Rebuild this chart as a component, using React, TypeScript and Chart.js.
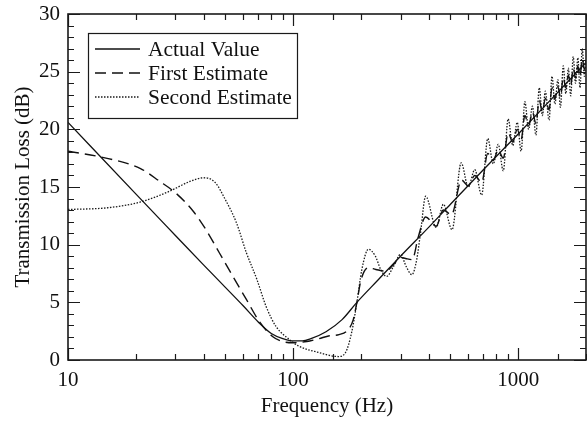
import React, { useEffect, useRef } from 'react';
import { Chart, registerables } from 'chart.js';

Chart.register(...registerables);

const FONT = "'Liberation Serif', 'Times New Roman', serif";

// X tick labels shown (log axis), y tick labels every 5
const xLabelTicks = [10, 100, 1000];
const yLabelStep = 5;

// Actual Value (solid)
const actualFreq = [10, 20, 30, 40, 50, 60, 70, 80, 90, 100, 110, 120, 140, 165, 192, 240, 300, 400, 500, 700, 1000, 1400, 2000];
const actualValue = [20.6, 14.4, 10.8, 8.25, 6.3, 4.7, 3.3, 2.3, 1.85, 1.65, 1.65, 1.85, 2.45, 3.5, 5.0, 7.0, 9.0, 11.5, 13.5, 16.5, 19.6, 22.6, 25.8];

// First Estimate (dashed)
const firstFreq = [10, 14, 21, 25.5, 30, 36, 41, 47, 54, 62, 71, 81, 90, 100, 115, 130, 145, 160, 175, 185, 192, 200, 216, 233, 258, 280, 300, 316, 338, 360, 388, 432, 465, 505, 560, 600, 641, 688, 732, 775, 815, 858, 902, 945, 990, 1030, 1070, 1112, 1157, 1198, 1240, 1280, 1320, 1370, 1413, 1455, 1500, 1540, 1585, 1627, 1670, 1710, 1755, 1797, 1840, 1880, 1925, 1967, 2000];
const firstValue = [18.1, 17.6, 16.6, 15.5, 14.5, 12.9, 11.3, 9.3, 7.25, 5.25, 3.3, 2.04, 1.6, 1.5, 1.6, 1.85, 2.1, 2.2, 2.6, 3.5, 5.0, 6.9, 8.0, 7.85, 7.7, 8.3, 8.9, 8.8, 8.7, 10.7, 12.4, 11.6, 13.0, 12.6, 15.6, 15.1, 16.0, 15.4, 17.9, 17.3, 18.2, 17.5, 19.7, 18.9, 20.0, 19.1, 21.2, 20.3, 21.5, 20.5, 22.5, 21.5, 22.7, 21.7, 23.6, 22.6, 23.7, 22.8, 24.5, 23.6, 24.7, 23.8, 25.3, 24.45, 25.5, 24.6, 26.1, 25.2, 25.9];

// Second Estimate (dotted)
const secondFreq = [10, 15, 21, 28, 35, 40, 45, 50, 56, 62, 69, 76, 84, 96, 106, 130, 159, 171, 182, 192, 202, 216, 232, 245, 260, 279, 300, 318, 337, 354, 368, 388, 432, 465, 508, 558, 600, 641, 688, 732, 775, 815, 858, 902, 945, 990, 1030, 1070, 1112, 1157, 1198, 1240, 1280, 1320, 1370, 1413, 1455, 1500, 1540, 1585, 1627, 1670, 1710, 1755, 1797, 1840, 1880, 1925, 1967, 2000];
const secondValue = [13.05, 13.2, 13.7, 14.6, 15.5, 15.8, 15.4, 13.9, 11.9, 9.3, 7.0, 4.6, 2.9, 1.8, 1.2, 0.65, 0.3, 0.65, 2.4, 5.0, 7.85, 9.6, 9.0, 7.85, 7.25, 8.1, 9.15, 8.1, 7.4, 8.7, 11.0, 14.2, 11.5, 13.5, 11.3, 17.1, 15.0, 16.5, 14.3, 19.2, 17.0, 18.7, 16.4, 20.9, 18.6, 20.6, 18.1, 22.4, 20.0, 22.0, 19.5, 23.6, 21.2, 23.3, 20.8, 24.6, 22.2, 24.3, 21.9, 25.5, 23.1, 25.3, 22.9, 26.3, 24.0, 26.2, 23.6, 27.0, 24.6, 26.0];

const seriesLabels = ['Actual Value', 'First Estimate', 'Second Estimate'];

const toPoints = (xs: number[], ys: number[]) => xs.map((x, i) => ({ x, y: ys[i] }));

const frameTicksPlugin = {
  id: 'frameTicks',
  afterDraw(chart: any) {
    const { ctx, chartArea: a, scales } = chart;
    const xs = scales.x;
    const ys = scales.y;
    ctx.save();
    ctx.strokeStyle = '#1a1a1a';
    ctx.lineWidth = 1.2;
    ctx.beginPath();
    xs.ticks.forEach((t: any) => {
      const px = Math.round(xs.getPixelForValue(t.value)) + 0.5;
      const major = xLabelTicks.includes(t.value);
      const len = major ? 12 : 6;
      ctx.moveTo(px, a.bottom);
      ctx.lineTo(px, a.bottom - len);
      ctx.moveTo(px, a.top);
      ctx.lineTo(px, a.top + len);
    });
    ys.ticks.forEach((t: any) => {
      const py = Math.round(ys.getPixelForValue(t.value)) + 0.5;
      const major = t.value % yLabelStep === 0;
      const len = major ? 12 : 6;
      ctx.moveTo(a.left, py);
      ctx.lineTo(a.left + len, py);
      ctx.moveTo(a.right, py);
      ctx.lineTo(a.right - len, py);
    });
    ctx.stroke();
    ctx.lineWidth = 1.6;
    ctx.strokeRect(a.left, a.top, a.right - a.left, a.bottom - a.top);
    ctx.restore();
  },
};

const boxLegendPlugin = {
  id: 'boxLegend',
  afterDraw(chart: any) {
    const { ctx, chartArea: a } = chart;
    const bx = a.left + 20;
    const by = a.top + 19;
    const bw = 209;
    const bh = 85;
    ctx.save();
    ctx.fillStyle = '#ffffff';
    ctx.fillRect(bx, by, bw, bh);
    ctx.strokeStyle = '#1a1a1a';
    ctx.lineWidth = 1.2;
    ctx.strokeRect(bx + 0.5, by + 0.5, bw, bh);
    ctx.font = `21.5px ${FONT}`;
    ctx.textBaseline = 'middle';
    ctx.textAlign = 'left';
    ctx.fillStyle = '#111';
    chart.data.datasets.forEach((ds: any, i: number) => {
      const ry = by + 16 + i * 24;
      ctx.beginPath();
      ctx.setLineDash(ds.borderDash || []);
      ctx.lineWidth = ds.borderWidth;
      ctx.strokeStyle = ds.borderColor;
      ctx.moveTo(bx + 7, ry);
      ctx.lineTo(bx + 52, ry);
      ctx.stroke();
      ctx.setLineDash([]);
      ctx.fillText(ds.label, bx + 60, ry + 1);
    });
    ctx.restore();
  },
};

export default function App() {
  const canvasRef = useRef<HTMLCanvasElement | null>(null);

  useEffect(() => {
    document.body.style.margin = '0';
    const canvas = canvasRef.current;
    if (!canvas) return;
    const chart = new Chart(canvas, {
      type: 'line',
      data: {
        datasets: [
          {
            label: seriesLabels[0],
            data: toPoints(actualFreq, actualValue),
            borderColor: '#111',
            borderWidth: 1.3,
            pointRadius: 0,
            cubicInterpolationMode: 'monotone',
            fill: false,
          },
          {
            label: seriesLabels[1],
            data: toPoints(firstFreq, firstValue),
            borderColor: '#111',
            borderWidth: 1.4,
            borderDash: [11, 6],
            pointRadius: 0,
            cubicInterpolationMode: 'monotone',
            fill: false,
          },
          {
            label: seriesLabels[2],
            data: toPoints(secondFreq, secondValue),
            borderColor: '#1a1a1a',
            borderWidth: 1.3,
            borderDash: [1.5, 1.5],
            pointRadius: 0,
            cubicInterpolationMode: 'monotone',
            fill: false,
          },
        ],
      },
      options: {
        responsive: false,
        animation: false,
        devicePixelRatio: 1,
        layout: { padding: { top: 14, right: 1, left: 0, bottom: 0 } },
        plugins: {
          legend: { display: false },
          tooltip: { enabled: false },
        },
        scales: {
          x: {
            type: 'logarithmic',
            min: 10,
            max: 2000,
            grid: { display: false, drawTicks: false, tickLength: 0 },
            border: { display: false },
            ticks: {
              autoSkip: false,
              maxRotation: 0,
              padding: 8,
              color: '#111',
              font: { family: FONT, size: 21 },
              callback: (v: any) => (xLabelTicks.includes(Number(v)) ? String(v) : ''),
            },
            title: {
              display: true,
              text: 'Frequency (Hz)',
              color: '#111',
              font: { family: FONT, size: 21 },
              padding: { top: 0, bottom: 4 },
            },
            afterFit: (s: any) => {
              s.height = 63;
              s.paddingLeft = 0;
              s.paddingRight = 0;
            },
          },
          y: {
            type: 'linear',
            min: 0,
            max: 30,
            grid: { display: false, drawTicks: false, tickLength: 0 },
            border: { display: false },
            ticks: {
              stepSize: 1,
              autoSkip: false,
              padding: 8,
              color: '#111',
              font: { family: FONT, size: 21 },
              callback: (v: any) => (Number(v) % yLabelStep === 0 ? String(v) : ''),
            },
            title: {
              display: true,
              text: 'Transmission Loss (dB)',
              color: '#111',
              font: { family: FONT, size: 21 },
              padding: { top: 11, bottom: 0 },
            },
            afterFit: (s: any) => {
              s.width = 68;
              s.paddingTop = 0;
              s.paddingBottom = 0;
            },
          },
        },
      },
      plugins: [frameTicksPlugin, boxLegendPlugin],
    });
    return () => chart.destroy();
  }, []);

  return (
    <div style={{ position: 'absolute', left: 0, top: 0, width: 587, height: 423, background: '#fff' }}>
      <canvas ref={canvasRef} width={587} height={423} style={{ display: 'block' }} />
    </div>
  );
}
